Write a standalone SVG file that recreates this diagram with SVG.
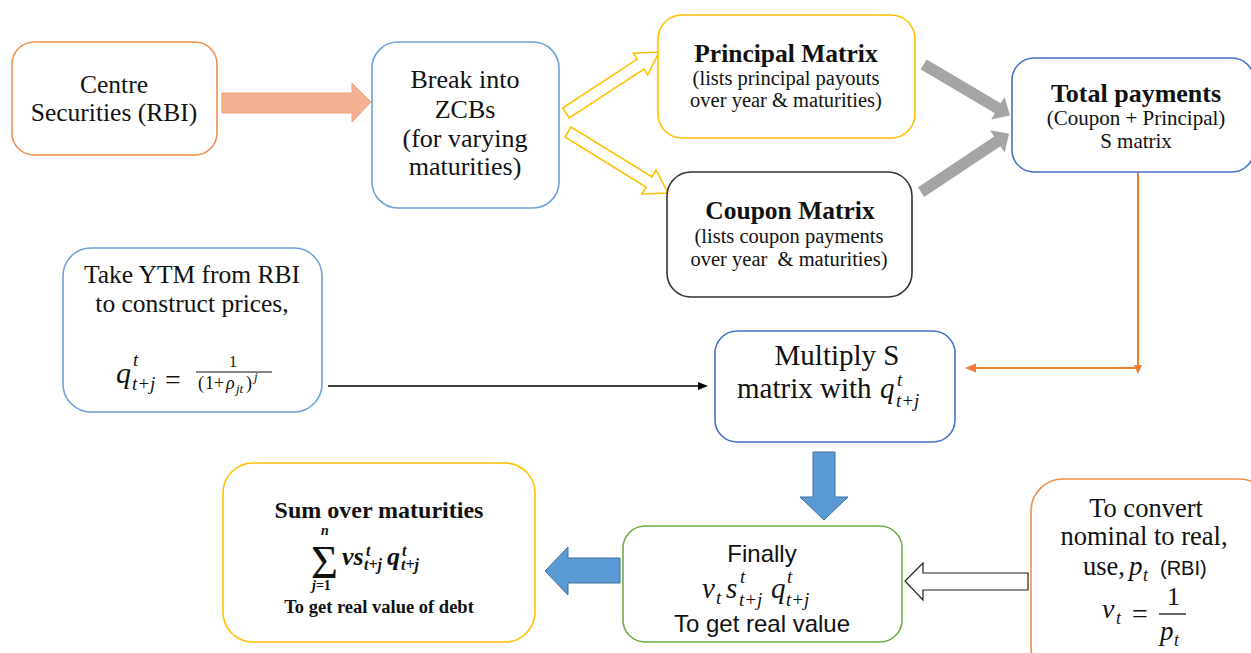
<svg xmlns="http://www.w3.org/2000/svg" width="1251" height="653" viewBox="0 0 1251 653">
<style>
.box{fill:#fff;stroke-width:1.6}
.t{font-family:"Liberation Serif",serif;fill:#111}
.c{text-anchor:middle}
.b{font-weight:bold}
.m{font-family:"Liberation Serif",serif;font-style:italic;fill:#111}
.s{font-family:"Liberation Sans",sans-serif;fill:#111}
.blue{fill:#5B9BD5;stroke:#41719C;stroke-width:1}
.gray{fill:#A5A5A5;stroke:#fff;stroke-width:1.5}
.yel{fill:#fff;stroke:#FFC000;stroke-width:1.6;stroke-linejoin:miter}
</style>
<rect width="1251" height="653" fill="#fff"/>

<g id="connectors">
  <polygon points="222,93 352,93 352,83 371,102 352,122 352,113 222,113" fill="#F4B092" stroke="#F2A07E" stroke-width="1"/>
  <polygon class="yel" points="562.7,108 637.3,59.1 633.5,53.2 659,52 647.7,75 643.9,69.1 569.3,118"/>
  <polygon class="yel" points="571,127 652,177 656,170 668,193 642,194 646,187 565,137"/>
  <polygon class="gray" points="926.3,58.4 1000.5,102.3 1004.8,95 1011,116 989.6,120.8 993.9,113.5 919.7,69.6"/>
  <polygon class="gray" points="916.9,187.1 993.1,136.4 988.4,129.3 1010,133 1005,154.3 1000.3,147.2 924.1,197.9"/>
  <path d="M1138 172 V368 H974" fill="none" stroke="#ED7D31" stroke-width="2"/>
  <polygon points="1134,365 1142,365 1138,374" fill="#ED7D31"/>
  <polygon points="965,368 976,363.5 976,372.5" fill="#ED7D31"/>
  <line x1="328" y1="386" x2="700" y2="386" stroke="#000" stroke-width="1.5"/>
  <polygon points="708,386 698,382 698,390" fill="#000"/>
  <polygon class="blue" points="813,452 835,452 835,497 848,497 824,520 800,497 813,497"/>
  <polygon class="blue" points="620,558 620,583 568,583 568,595 545,571 568,547 568,558"/>
  <polygon points="1028,573 1028,590 923,590 923,600 905,581 923,563 923,573" fill="#fff" stroke="#222" stroke-width="1.2"/>
</g>

<g id="centre">
  <rect class="box" x="12" y="42" width="205" height="113" rx="22" stroke="#EE914F"/>
  <text class="t c" x="114" y="93" font-size="25.5">Centre</text>
  <text class="t c" x="114" y="121" font-size="25.5">Securities (RBI)</text>
</g>

<g id="break">
  <rect class="box" x="372" y="42" width="187" height="166" rx="26" stroke="#6FA0D8"/>
  <text class="t c" x="465" y="88" font-size="26">Break into</text>
  <text class="t c" x="465" y="118" font-size="26">ZCBs</text>
  <text class="t c" x="465" y="147" font-size="26">(for varying</text>
  <text class="t c" x="465" y="175" font-size="26">maturities)</text>
</g>

<g id="principal">
  <rect class="box" x="658" y="15" width="257" height="123" rx="24" stroke="#FFC000"/>
  <text class="t c b" x="786" y="62" font-size="25.5">Principal Matrix</text>
  <text class="t c" x="786" y="85" font-size="20.5">(lists principal payouts</text>
  <text class="t c" x="786" y="107" font-size="20.5">over year &amp; maturities)</text>
</g>

<g id="coupon">
  <rect class="box" x="667" y="172" width="245" height="125" rx="24" stroke="#333"/>
  <text class="t c b" x="790" y="219" font-size="25.5">Coupon Matrix</text>
  <text class="t c" x="789" y="243" font-size="20.5">(lists coupon payments</text>
  <text class="t c" x="789" y="266" font-size="20.5" xml:space="preserve">over year  &amp; maturities)</text>
</g>

<g id="total">
  <rect class="box" x="1012" y="58" width="242" height="114" rx="22" stroke="#4472C4"/>
  <text class="t c b" x="1136" y="102" font-size="26">Total payments</text>
  <text class="t c" x="1136" y="125" font-size="21">(Coupon + Principal)</text>
  <text class="t c" x="1136" y="148" font-size="21">S matrix</text>
</g>

<g id="ytm">
  <rect class="box" x="63" y="248" width="259" height="164" rx="28" stroke="#6FA0D8"/>
  <text class="t c" x="192" y="283" font-size="25.5">Take YTM from RBI</text>
  <text class="t c" x="192" y="312" font-size="25.5">to construct prices,</text>
  <text class="m" x="116" y="383" font-size="30">q</text>
  <text class="m" x="133" y="366" font-size="19">t</text>
  <text class="m" x="132" y="390" font-size="19">t+j</text>
  <text class="t" x="165" y="389" font-size="28">=</text>
  <text class="t" x="229" y="367" font-size="16">1</text>
  <line x1="196" y1="372" x2="272" y2="372" stroke="#111" stroke-width="1"/>
  <text class="t" x="198" y="389" font-size="18">(</text>
  <text class="t" x="205" y="389" font-size="18">1</text>
  <text class="t" x="214" y="389" font-size="18">+</text>
  <text class="m" x="226" y="389" font-size="18">ρ</text>
  <text class="m" x="236" y="393" font-size="13">jt</text>
  <text class="t" x="246" y="389" font-size="18">)</text>
  <text class="m" x="254" y="381" font-size="13">j</text>
</g>

<g id="multiply">
  <rect class="box" x="715" y="331" width="240" height="111" rx="22" stroke="#4472C4"/>
  <text class="t c" x="837" y="365" font-size="29">Multiply S</text>
  <text class="t" x="737" y="398" font-size="29">matrix with</text>
  <text class="m" x="880" y="398" font-size="29">q</text>
  <text class="m" x="897" y="386" font-size="19">t</text>
  <text class="m" x="896" y="407" font-size="19">t+j</text>
</g>

<g id="finally">
  <rect class="box" x="623" y="526" width="279" height="116" rx="22" stroke="#70AD47"/>
  <text class="s c" x="762" y="562" font-size="24">Finally</text>
  <text class="m" x="702" y="598" font-size="29">v</text>
  <text class="m" x="716" y="604" font-size="19">t</text>
  <text class="m" x="726" y="598" font-size="29">s</text>
  <text class="m" x="740" y="583" font-size="19">t</text>
  <text class="m" x="739" y="606" font-size="19">t+j</text>
  <text class="m" x="771" y="598" font-size="29">q</text>
  <text class="m" x="787" y="583" font-size="19">t</text>
  <text class="m" x="786" y="606" font-size="19">t+j</text>
  <text class="s c" x="762" y="632" font-size="24">To get real value</text>
</g>

<g id="sum">
  <rect class="box" x="223" y="463" width="312" height="179" rx="30" stroke="#FFC000"/>
  <text class="t c b" x="379" y="518" font-size="24">Sum over maturities</text>
  <text class="t b"><tspan x="311" y="578" font-size="46" font-weight="normal" textLength="27" lengthAdjust="spacingAndGlyphs">Σ</tspan><tspan x="321" y="535" font-size="14" font-style="italic">n</tspan><tspan x="312" y="590" font-size="14" font-style="italic">j</tspan><tspan font-size="14">=1</tspan><tspan x="342" y="565" font-size="26" font-style="italic">vs</tspan><tspan x="366" y="556" font-size="16" font-style="italic">t</tspan><tspan x="364" y="570" font-size="16" font-style="italic">t+j</tspan><tspan x="387" y="565" font-size="26" font-style="italic">q</tspan><tspan x="402" y="556" font-size="16" font-style="italic">t</tspan><tspan x="401" y="570" font-size="16" font-style="italic">t+j</tspan></text>
  <text class="t c b" x="379" y="613" font-size="18.5">To get real value of debt</text>
</g>

<g id="convert">
  <rect class="box" x="1031" y="479" width="240" height="200" rx="32" stroke="#EE914F"/>
  <text class="t c" x="1146" y="517" font-size="26.5">To convert</text>
  <text class="t c" x="1144" y="545" font-size="26.5">nominal to real,</text>
  <text class="t" x="1083" y="575" font-size="26.5">use,</text>
  <text class="m" x="1129" y="575" font-size="27">p</text>
  <text class="m" x="1143" y="581" font-size="18">t</text>
  <text class="s" x="1160" y="575" font-size="20">(RBI)</text>
  <text class="m" x="1102" y="618" font-size="28">v</text>
  <text class="m" x="1116" y="624" font-size="18">t</text>
  <text class="t" x="1132" y="623" font-size="28">=</text>
  <text class="t" x="1167" y="605" font-size="26">1</text>
  <line x1="1159" y1="614" x2="1186" y2="614" stroke="#111" stroke-width="1.3"/>
  <text class="m" x="1160" y="640" font-size="27">p</text>
  <text class="m" x="1174" y="646" font-size="18">t</text>
</g>
</svg>
